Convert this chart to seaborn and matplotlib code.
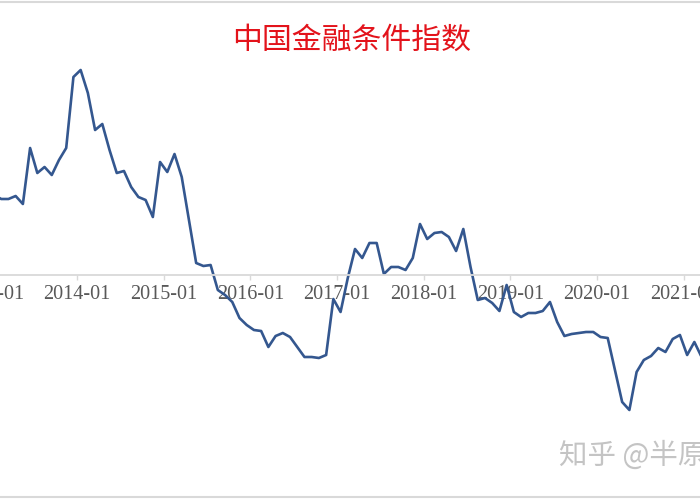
import numpy as np
import pandas as pd
import matplotlib.pyplot as plt
import seaborn as sns

# ── DATA (monthly from 2013-01) ─────────────────────────────
TITLE     = "中国金融条件指数"
WATERMARK = "知乎 @半原"

fci = [0.80, 0.76, 0.76, 0.79, 0.71, 1.27, 1.02, 1.08, 1.00, 1.15, 1.27, 1.98,
       2.05, 1.82, 1.45, 1.51, 1.25, 1.02, 1.04, 0.88, 0.78, 0.75, 0.58, 1.13,
       1.03, 1.21, 0.98, 0.55, 0.12, 0.09, 0.10, -0.15, -0.20, -0.27, -0.43, -0.50,
       -0.55, -0.56, -0.72, -0.61, -0.58, -0.62, -0.72, -0.82, -0.82, -0.83, -0.80, -0.24,
       -0.37, -0.03, 0.26, 0.17, 0.32, 0.32, 0.01, 0.08, 0.08, 0.05, 0.17, 0.51,
       0.36, 0.42, 0.43, 0.38, 0.24, 0.46, 0.08, -0.25, -0.23, -0.28, -0.36, -0.10,
       -0.37, -0.42, -0.38, -0.38, -0.36, -0.27, -0.47, -0.61, -0.59, -0.58, -0.57, -0.57,
       -0.62, -0.63, -0.95, -1.27, -1.35, -0.97, -0.85, -0.81, -0.73, -0.77, -0.64, -0.60,
       -0.80, -0.67, -0.82]

tick_labels = ["2013-01", "2014-01", "2015-01", "2016-01", "2017-01",
               "2018-01", "2019-01", "2020-01", "2021-01"]

df = pd.DataFrame({"month": pd.date_range("2013-01-01", periods=len(fci), freq="MS"),
                   "fci": fci})
df["idx"] = np.arange(len(df))

# ── STYLE ────────────────────────────────────────────────────
sns.set_theme(style="white")
plt.rcParams["font.family"] = ["Noto Sans CJK SC", "DejaVu Sans"]

GRID_GREY = "#d9d9d9"

fig = plt.figure(figsize=(7, 5), dpi=100)
# axes runs a little past the figure on both sides (the picture is a crop)
ax = fig.add_axes([-14 / 700, 3 / 500, 728 / 700, 495 / 500])

sns.lineplot(data=df, x="idx", y="fci", color="#34578F", linewidth=1.9, ax=ax)

ax.set_xlim(-1.108, 99.72)
ax.set_ylim(-2.22, 2.73)
ax.set_xlabel("")
ax.set_ylabel("")
ax.set_yticks([])

# category axis: ticks sit between months, one label per year
ax.set_xticks([-0.5 + 12 * k for k in range(len(tick_labels))])
ax.set_xticklabels(tick_labels)
ax.tick_params(axis="x", direction="out", length=3.6, width=1, color=GRID_GREY,
               pad=3.5, labelsize=14.5, labelcolor="#595959", bottom=True,
               labelfontfamily="Liberation Serif")
for lbl in ax.get_xticklabels():
    lbl.set_fontfamily("Liberation Serif")

ax.spines["left"].set_visible(False)
ax.spines["right"].set_visible(False)
ax.spines["bottom"].set_position(("data", 0))
ax.spines["bottom"].set_color(GRID_GREY)
ax.spines["bottom"].set_linewidth(1.3)
ax.spines["top"].set_color(GRID_GREY)
ax.spines["top"].set_linewidth(1.5)
# chart-area border at the bottom
ax.plot([0, 1], [0, 0], transform=ax.transAxes, color=GRID_GREY,
        linewidth=1.5, clip_on=False)

fig.text(0.503, 1 - 40 / 500, TITLE, ha="center", va="center",
         color="#E3131B", fontsize=21.5)
fig.text(559 / 700, 1 - 456 / 500, WATERMARK, ha="left", va="center",
         color="#c4c4c4", fontsize=20.5)

plt.savefig("out.png", dpi=100)
